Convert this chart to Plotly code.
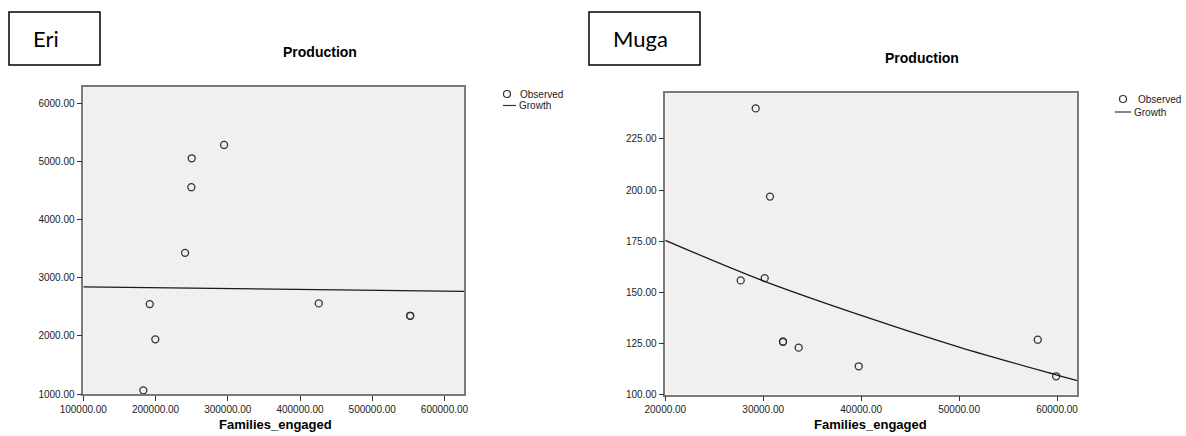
import plotly.graph_objects as go

# ---- data ----------------------------------------------------------------
# Eri: families engaged vs production (observed) and fitted growth curve
eri_families = [183100, 192000, 199700, 240900, 249600, 250100, 294900, 426000, 552500, 552500]
eri_production = [1063, 2545, 1939, 3425, 4553, 5050, 5279, 2556, 2344, 2344]
eri_growth_x = [100000, 360000, 627000]
eri_growth_y = [2841, 2802, 2762]

# Muga: families engaged vs production (observed) and fitted growth curve
muga_families = [29230, 30690, 27700, 30150, 32020, 32020, 33620, 39750, 58030, 59910]
muga_production = [239.9, 196.8, 155.8, 156.9, 125.8, 125.8, 122.9, 113.8, 126.8, 108.9]
muga_growth_x = [20000, 30000, 40000, 50000, 60000, 62070]
muga_growth_y = [175.4, 155.6, 138.7, 123.2, 109.5, 106.8]

eri_yticks = [1000, 2000, 3000, 4000, 5000, 6000]
eri_xticks = [100000, 200000, 300000, 400000, 500000, 600000]
muga_yticks = [100, 125, 150, 175, 200, 225]
muga_xticks = [20000, 30000, 40000, 50000, 60000]

# ---- layout helpers ------------------------------------------------------
W, H = 1186, 436


def px(x):
    return x / W


def py(y):
    return 1 - y / H


AXIS_FONT = dict(family="Liberation Sans, Arial", size=10, color="#222222")
FRAME = "#7a7a7a"

fig = go.Figure()

marker_style = dict(symbol="circle-open", size=7, color="#333333", line=dict(width=1.3, color="#333333"))
line_style = dict(color="#1a1a1a", width=1.3)

fig.add_trace(go.Scatter(x=eri_families, y=eri_production, mode="markers",
                         marker=marker_style, xaxis="x", yaxis="y", showlegend=False))
fig.add_trace(go.Scatter(x=eri_growth_x, y=eri_growth_y, mode="lines",
                         line=line_style, xaxis="x", yaxis="y", showlegend=False))
fig.add_trace(go.Scatter(x=muga_families, y=muga_production, mode="markers",
                         marker=marker_style, xaxis="x2", yaxis="y2", showlegend=False))
fig.add_trace(go.Scatter(x=muga_growth_x, y=muga_growth_y, mode="lines",
                         line=dict(shape="spline", **line_style), xaxis="x2", yaxis="y2",
                         showlegend=False))


def axis(domain, rng, ticks, anchor):
    return dict(domain=domain, range=rng, tickvals=ticks, tickformat=".2f",
                showgrid=False, zeroline=False, showline=True, mirror=True,
                linecolor=FRAME, linewidth=1.5, ticks="outside", ticklen=5,
                tickcolor="#333333", tickwidth=1, tickfont=AXIS_FONT, anchor=anchor,
                automargin=False)


fig.update_layout(
    width=W, height=H,
    margin=dict(l=0, r=0, t=0, b=0, pad=0, autoexpand=False),
    paper_bgcolor="white",
    plot_bgcolor="#f0f0f0",
    showlegend=False,
    xaxis=axis([px(83.3), px(464)], [100000, 627000], eri_xticks, "y"),
    yaxis=axis([py(394), py(87)], [1000, 6275], eri_yticks, "x"),
    xaxis2=axis([px(665.3), px(1077.3)], [20000, 62070], muga_xticks, "y2"),
    yaxis2=axis([py(394.5), py(93.3)], [100, 247.3], muga_yticks, "x2"),
)

annotations = []
shapes = []

# panel name boxes
for name, x0, x1, tx in [("Eri", 9, 100, 31), ("Muga", 589, 700, 611)]:
    shapes.append(dict(type="rect", xref="paper", yref="paper",
                       x0=px(x0), x1=px(x1), y0=py(65), y1=py(12),
                       line=dict(color="black", width=1.5), fillcolor="white"))
    annotations.append(dict(text=name, xref="paper", yref="paper", x=px(tx), y=py(39),
                            xanchor="left", yanchor="middle", showarrow=False,
                            font=dict(family="Lato, Open Sans", size=22, color="black")))

# chart titles and x-axis titles
for cx, ty, ax in [(320, 52, 275), (922, 58, 870)]:
    annotations.append(dict(text="<b>Production</b>", xref="paper", yref="paper",
                            x=px(cx), y=py(ty), xanchor="center", yanchor="middle",
                            showarrow=False,
                            font=dict(family="Liberation Sans, Arial", size=14, color="black")))
    annotations.append(dict(text="<b>Families_engaged</b>", xref="paper", yref="paper",
                            x=px(ax), y=py(424), xanchor="center", yanchor="middle",
                            showarrow=False,
                            font=dict(family="Liberation Sans, Arial", size=13, color="black")))

# legends: open circle = Observed, line = Growth
for cx, cy, tx, lx0, lx1, ly in [(507, 94, 518, 503, 516, 105.5),
                                  (1123, 99, 1136, 1115, 1131, 112)]:
    shapes.append(dict(type="circle", xref="paper", yref="paper",
                       xsizemode="pixel", ysizemode="pixel",
                       xanchor=px(cx), yanchor=py(cy), x0=-3.5, x1=3.5, y0=-3.5, y1=3.5,
                       line=dict(color="#333333", width=1.2)))
    shapes.append(dict(type="line", xref="paper", yref="paper",
                       x0=px(lx0), x1=px(lx1), y0=py(ly), y1=py(ly),
                       line=dict(color="#333333", width=1.2)))
    annotations.append(dict(text="Observed", xref="paper", yref="paper", x=px(tx), y=py(cy),
                            xanchor="left", yanchor="middle", showarrow=False,
                            font=AXIS_FONT))
    annotations.append(dict(text="Growth", xref="paper", yref="paper", x=px(lx1 + 1), y=py(ly),
                            xanchor="left", yanchor="middle", showarrow=False,
                            font=AXIS_FONT))

fig.update_layout(annotations=annotations)
for s in shapes:
    fig.add_shape(**s)

fig.write_html("out.html")
